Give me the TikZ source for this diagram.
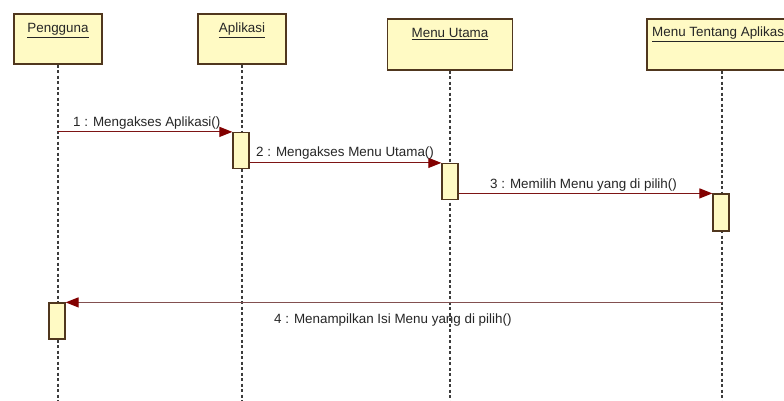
\documentclass[tikz,border=0pt]{standalone}
\usepackage{fontspec}
\setmainfont{Liberation Sans}
\usetikzlibrary{arrows.meta}
\definecolor{boxfill}{RGB}{255,250,196}
\definecolor{boxline}{RGB}{80,55,30}
\definecolor{msgline}{RGB}{125,20,20}
\definecolor{msghead}{RGB}{130,0,0}
\definecolor{lifecol}{RGB}{60,60,60}
\begin{document}
\begin{tikzpicture}[x=1pt,y=-1pt,
  objbox/.style={draw=boxline,fill=boxfill,line width=1.3pt,minimum height=50pt,inner sep=0pt},
  actbox/.style={draw=boxline,fill=boxfill,line width=1.2pt,minimum width=16pt,minimum height=36pt,inner sep=0pt},
  lifeline/.style={draw=lifecol,line width=1.1pt,dash pattern=on 3pt off 2.5pt},
  msg/.style={draw=msgline,line width=1.1pt,-{Triangle[length=13pt,width=10pt,fill=msghead,color=msghead]}},
  title/.style={font=\fontsize{13.4}{15}\selectfont,inner sep=0pt,text=black!85},
  msglabel/.style={font=\fontsize{13.4}{15}\selectfont,inner sep=0pt,text=black!85,anchor=base west}]
\useasboundingbox (0,0) rectangle (784,401);
\fill[white] (0,0) rectangle (784,401);

% object boxes
\node[objbox,minimum width=88pt] (pengguna) at (58,39) {};
\node[objbox,minimum width=88pt] (aplikasi) at (242,39) {};
\node[objbox,minimum width=125pt,minimum height=51pt] (menuutama) at (450,44.5) {};
\node[objbox,minimum width=150pt,minimum height=51pt] (menutentang) at (722,44.5) {};

\node[title,anchor=base] (t1) at (58,33) {\underline{Pengguna}};
\node[title,anchor=base] (t2) at (242,33) {\underline{Aplikasi}};
\node[title,anchor=base] (t3) at (450,38) {\underline{Menu Utama}};
\node[title,anchor=base west] (t4) at (652,37) {\underline{Menu Tentang Aplikasi}};

% lifeline ends
\coordinate (e1) at (58,401);
\coordinate (e2) at (242,401);
\coordinate (e3) at (450,401);
\coordinate (e4) at (722,401);
\draw[lifeline] (pengguna.south) -- (e1);
\draw[lifeline] (aplikasi.south) -- (e2);
\draw[lifeline] (menuutama.south) -- (e3);
\draw[lifeline] (menutentang.south) -- (e4);

% activations
\node[actbox] (actapl) at (241,150.5) {};
\node[actbox] (actmu) at (450,181.5) {};
\node[actbox,minimum height=37pt] (actmt) at (721,212.5) {};
\node[actbox] (actp) at (57,321) {};

% messages
\draw[msg] (pengguna |- actapl.north) -- (actapl.north west);
\draw[msg] (actapl.east |- actmu.north) -- (actmu.north west);
\draw[msg] (actmu.east |- actmt.north) -- (actmt.north west);
\draw[msg,draw={rgb,255:red,130;green,80;blue,80}] (menutentang |- actp.north) -- (actp.north east);

\node[msglabel] (m1) at (73,127) {1 : Mengakses Aplikasi()};
\node[msglabel] (m2) at (256,157) {2 : Mengakses Menu Utama()};
\node[msglabel] (m3) at (490,188) {3 : Memilih Menu yang di pilih()};
\node[msglabel] (m4) at (274,323) {4 : Menampilkan Isi Menu yang di pilih()};
\end{tikzpicture}
\end{document}
